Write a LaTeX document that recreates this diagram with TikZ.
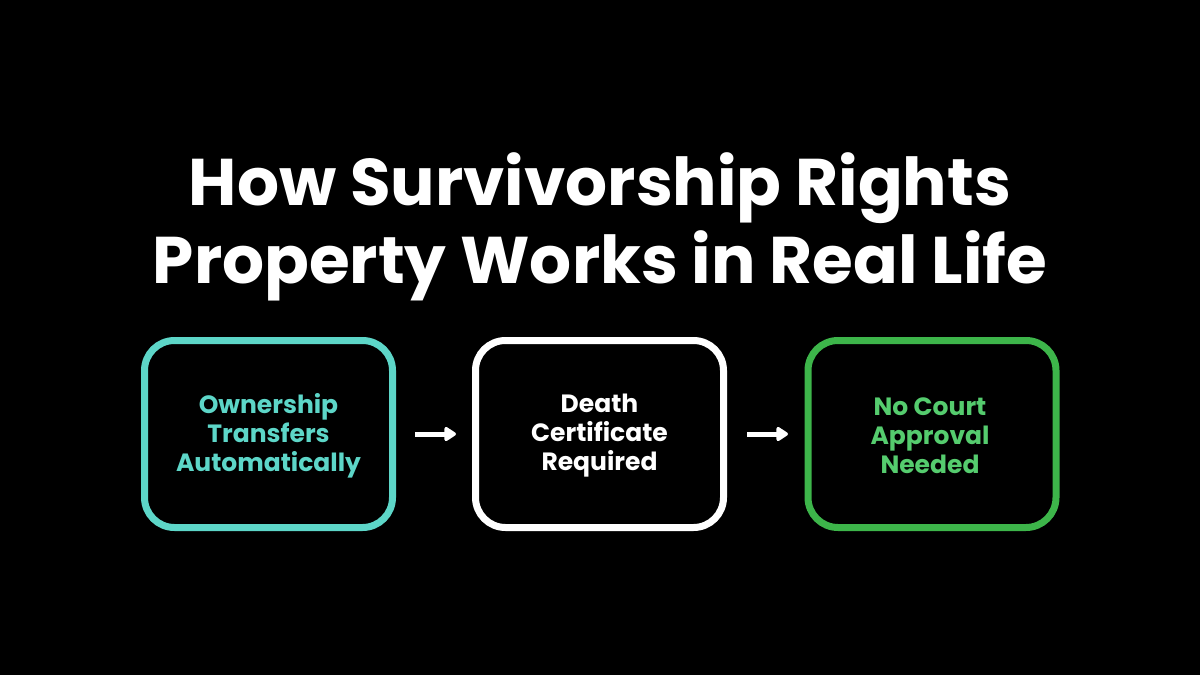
\documentclass[tikz,border=0pt]{standalone}
\usepackage{fontspec}
\setmainfont{Poppins}
\usetikzlibrary{arrows.meta}
\definecolor{teal1}{HTML}{5DD6C8}
\definecolor{green1}{HTML}{3DB54A}
\definecolor{green2}{HTML}{55CC6E}
\tikzset{
  stepbox/.style={draw, line width=7pt, rounded corners=30pt, minimum width=248pt, minimum height=187pt, inner sep=0pt},
  boxtext/.style={font=\fontsize{25}{29}\selectfont\bfseries, align=center},
  flow/.style={draw=white, line width=5pt, -{Triangle[length=13pt,width=16pt,round]}}
}
\begin{document}
\begin{tikzpicture}[x=1pt,y=-1pt]
\fill[black] (0,0) rectangle (1200,675);
\useasboundingbox (0,0) rectangle (1200,675);
\node[text=white, font=\fontsize{66}{78}\selectfont\bfseries, align=center] (title) at (600,227) {How Survivorship Rights\\Property Works in Real Life};
\node[stepbox, draw=teal1] (b1) at (268.5,434) {};
\node[stepbox, draw=white] (b2) at (599.5,434) {};
\node[stepbox, draw=green1] (b3) at (932,434) {};
\node[boxtext, text=teal1] (t1) at (268.5,436) {Ownership\\Transfers\\Automatically};
\node[boxtext, text=white] (t2) at (599.5,436) {Death\\Certificate\\Required};
\node[boxtext, text=green2] (t3) at (930,436) {No Court\\Approval\\Needed};
\coordinate (a1s) at (415,434);
\coordinate (a1e) at (456,434);
\coordinate (a2s) at (747,434);
\coordinate (a2e) at (788,434);
\draw[flow] (a1s) -- (a1e);
\draw[flow] (a2s) -- (a2e);
\end{tikzpicture}
\end{document}
